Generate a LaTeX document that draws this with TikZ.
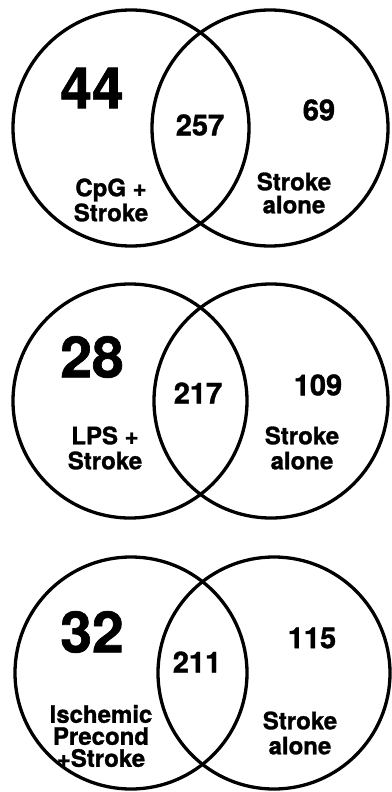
\documentclass[tikz,border=0pt]{standalone}
\usepackage{fontspec}
\setmainfont{TeX Gyre Heros}[BoldFeatures={FakeBold=1.2}]
\usepackage{tikz}
\usetikzlibrary{positioning}

\tikzset{
  set/.style={draw, circle, line width=3.3pt, minimum size=#1, inner sep=0pt},
  big/.style={font=\fontsize{57}{57}\selectfont\bfseries},
  num/.style={font=\fontsize{29}{29}\selectfont\bfseries},
  lab/.style={align=center, font=\fontsize{24}{#1}\selectfont\bfseries},
}

\begin{document}
\begin{tikzpicture}[x=1pt, y=-1pt]
    \useasboundingbox (0,0) rectangle (391,792);

    \node[set=236pt] (cpg) at (131,128) {};
    \node[set=236pt] (sa1) at (270,128) {};
    \node[big] (cpgonly) at (92,88) {44};
    \node[num] (cpgboth) at (200,125) {257};
    \node[num] (sa1only) at (319,110) {69};
    \node[lab=25pt] (cpglab) at (111,200) {CpG +\\Stroke};
    \node[lab=23pt] (sa1lab) at (294,193) {Stroke\\alone};

    \node[set=234pt] (lps) at (130,401) {};
    \node[set=234pt] (sa2) at (271,401) {};
    \node[big] (lpsonly) at (92,357) {28};
    \node[num] (lpsboth) at (198,393) {217};
    \node[num] (sa2only) at (318,385) {109};
    \node[lab=25pt] (lpslab) at (105,448) {LPS +\\Stroke};
    \node[lab=25pt] (sa2lab) at (302,448) {Stroke\\alone};

    \node[set=232pt] (ip) at (131,673) {};
    \node[set=232pt] (sa3) at (274,673) {};
    \node[big] (iponly) at (92,632) {32};
    \node[num] (ipboth) at (197,662) {211};
    \node[num] (sa3only) at (312,638) {115};
    \node[lab=22pt] (iplab) at (101,736) {Ischemic\\Precond\\+Stroke};
    \node[lab=25pt] (sa3lab) at (300,733) {Stroke\\alone};
\end{tikzpicture}
\end{document}
